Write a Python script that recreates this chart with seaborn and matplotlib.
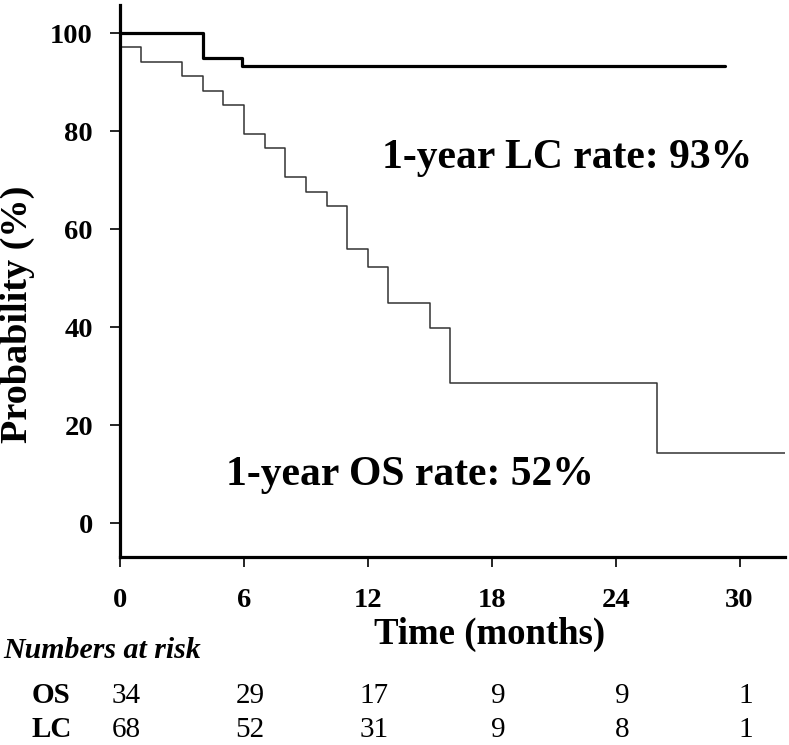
import numpy as np
import pandas as pd
import seaborn as sns
import matplotlib.pyplot as plt
import matplotlib.transforms as mtransforms

# Kaplan-Meier step values (time in months, probability in %)
os_time = [0, 1, 3, 4, 5, 6, 7, 8, 9, 10, 11, 12, 13, 15, 16, 26, 33]
os_prob = [97.1, 94.1, 91.2, 88.2, 85.3, 79.4, 76.5, 70.6, 67.6, 64.7, 55.9, 52.3, 44.9, 39.9, 28.6, 14.3, 14.3]

lc_time = [0, 4, 5.9, 29.3]
lc_prob = [100, 94.9, 93.2, 93.2]

x_ticks = [0, 6, 12, 18, 24, 30]
y_ticks = [0, 20, 40, 60, 80, 100]

# numbers at risk table
risk_rows = ["OS", "LC"]
risk_os = [34, 29, 17, 9, 9, 1]
risk_lc = [68, 52, 31, 9, 8, 1]

lc_text = "1-year LC rate: 93%"
os_text = "1-year OS rate: 52%"

sns.set_theme(style="ticks")
plt.rcParams['font.family'] = ['Liberation Serif', 'DejaVu Serif']
# plain black text like the original figure
plt.rcParams['text.color'] = 'black'
plt.rcParams['axes.labelcolor'] = 'black'
plt.rcParams['xtick.color'] = 'black'
plt.rcParams['ytick.color'] = 'black'
plt.rcParams['axes.edgecolor'] = 'black'

os_df = pd.DataFrame({"time": os_time, "prob": os_prob})
lc_df = pd.DataFrame({"time": lc_time, "prob": lc_prob})

fig = plt.figure(figsize=(7.89, 7.45), dpi=100)
ax = fig.add_axes([0.1521, 0.2523, 0.8428, 0.7409])

sns.lineplot(data=lc_df, x="time", y="prob", ax=ax, color="black", linewidth=2.3,
             drawstyle="steps-post", estimator=None, sort=False)
sns.lineplot(data=os_df, x="time", y="prob", ax=ax, color="#333333", linewidth=1.1,
             drawstyle="steps-post", estimator=None, sort=False)

ax.set_xlim(0, 32.2)
ax.set_ylim(-6.9, 105.7)

ax.set_xticks(x_ticks, [str(t) for t in x_ticks], fontsize=20.5, fontweight="bold")
ax.set_yticks(y_ticks, [str(t) for t in y_ticks], fontsize=20.5, fontweight="bold")
ax.tick_params(axis="x", length=7.5, width=1.2, pad=15, colors="black")
ax.tick_params(axis="y", length=7.5, width=1.2, pad=12, colors="black")

for side in ["top", "right"]:
    ax.spines[side].set_visible(False)
for side in ["left", "bottom"]:
    ax.spines[side].set_linewidth(2.3)
    ax.spines[side].set_color("black")

ax.set_xlabel("Time (months)", fontsize=26.5, fontweight="bold", color="black")
ax.xaxis.set_label_coords(0.556, -0.108)
ax.set_ylabel("Probability (%)", fontsize=27.5, fontweight="bold", color="black")
ax.yaxis.set_label_coords(-0.128, 0.44)

# rate annotations
ax.text(12.7, 72.4, lc_text, fontsize=30, fontweight="bold", ha="left", va="baseline",
        color="black")
ax.text(5.13, 7.8, os_text, fontsize=30, fontweight="bold", ha="left", va="baseline",
        color="black")

# numbers at risk
fig.text(3 / 789, 0.1168, "Numbers at risk", fontsize=21.5, fontweight="bold",
         style="italic", ha="left", va="baseline", color="black")
trans = mtransforms.blended_transform_factory(ax.transData, fig.transFigure)
row_y = [0.0564, 0.0107]
for name, vals, yy in zip(risk_rows, [risk_os, risk_lc], row_y):
    fig.text(32 / 789, yy, name, fontsize=21, fontweight="bold", ha="left", va="baseline",
             color="black")
    for t, v in zip(x_ticks, vals):
        ax.text(t + 0.3, yy, str(v), transform=trans, fontsize=21, ha="center",
                va="baseline", clip_on=False, color="black")

fig.savefig("out.png", dpi=100, facecolor="white")
